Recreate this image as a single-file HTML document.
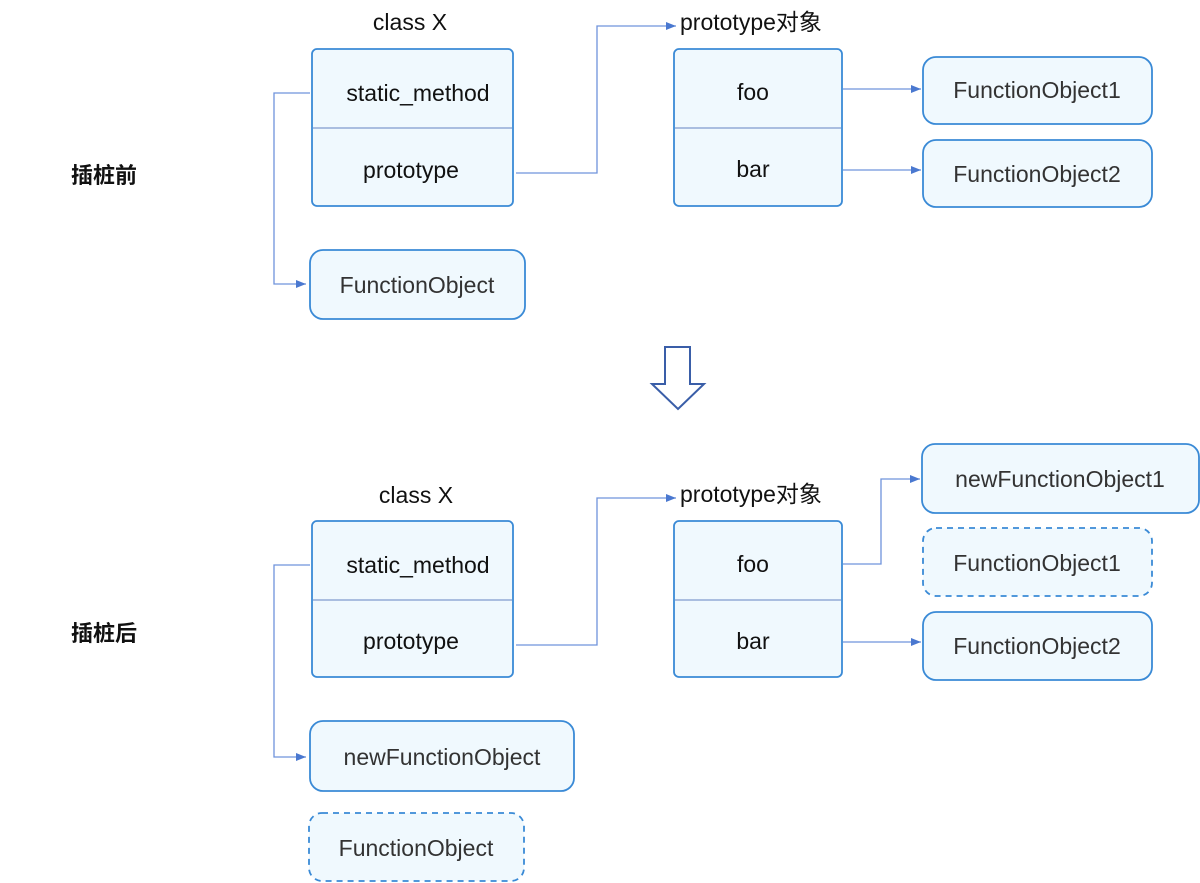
<!DOCTYPE html>
<html><head><meta charset="utf-8"><style>
html,body{margin:0;padding:0;background:#fff;}
svg{display:block;}
text{font-family:"Liberation Sans","Noto Sans CJK SC",sans-serif;font-size:23px;}
</style></head><body>
<svg width="1200" height="883" viewBox="0 0 1200 883" xmlns="http://www.w3.org/2000/svg">
<defs><marker id="a" markerWidth="10" markerHeight="8" refX="10" refY="4" orient="auto" markerUnits="userSpaceOnUse"><path d="M0,0 L10,4 L0,8 z" fill="#4a78d0"/></marker></defs>
<g fill="#f0f9fe" stroke="#3a8ad6" stroke-width="1.8">
<!-- top -->
<rect x="312" y="49" width="201" height="157" rx="5"/>
<rect x="674" y="49" width="168" height="157" rx="5"/>
<rect x="310" y="250" width="215" height="69" rx="13"/>
<rect x="923" y="57" width="229" height="67" rx="13"/>
<rect x="923" y="140" width="229" height="67" rx="13"/>
<!-- bottom -->
<rect x="312" y="521" width="201" height="156" rx="5"/>
<rect x="674" y="521" width="168" height="156" rx="5"/>
<rect x="310" y="721" width="264" height="70" rx="13"/>
<rect x="309" y="813" width="215" height="68" rx="13" stroke-dasharray="6,5"/>
<rect x="922" y="444" width="277" height="69" rx="13"/>
<rect x="923" y="528" width="229" height="68" rx="13" stroke-dasharray="6,5"/>
<rect x="923" y="612" width="229" height="68" rx="13"/>
</g>
<g stroke="#7f9ccf" stroke-width="1.3">
<line x1="313" y1="128" x2="512" y2="128"/><line x1="675" y1="128" x2="841" y2="128"/>
<line x1="313" y1="600" x2="512" y2="600"/><line x1="675" y1="600" x2="841" y2="600"/>
</g>
<g fill="none" stroke="#6f93dc" stroke-width="1.3">
<polyline points="310,93 274,93 274,284 306,284" marker-end="url(#a)"/>
<polyline points="516,173 597,173 597,26 676,26" marker-end="url(#a)"/>
<line x1="843" y1="89" x2="921" y2="89" marker-end="url(#a)"/>
<line x1="843" y1="170" x2="921" y2="170" marker-end="url(#a)"/>
<polyline points="310,565 274,565 274,757 306,757" marker-end="url(#a)"/>
<polyline points="516,645 597,645 597,498 676,498" marker-end="url(#a)"/>
<polyline points="843,564 881,564 881,479 920,479" marker-end="url(#a)"/>
<line x1="843" y1="642" x2="921" y2="642" marker-end="url(#a)"/>
</g>
<path d="M665,347 L690,347 L690,384 L704,384 L678,409 L652,384 L665,384 Z" fill="#fff" stroke="#3a5ea8" stroke-width="2"/>
<g fill="#111">
<text x="410" y="30" text-anchor="middle">class X</text>
<text x="680" y="30">prototype对象</text>
<text x="418" y="101" text-anchor="middle">static_method</text>
<text x="411" y="178" text-anchor="middle">prototype</text>
<text x="753" y="100" text-anchor="middle">foo</text>
<text x="753" y="177" text-anchor="middle">bar</text>
<text x="416" y="503" text-anchor="middle">class X</text>
<text x="680" y="502">prototype对象</text>
<text x="418" y="573" text-anchor="middle">static_method</text>
<text x="411" y="649" text-anchor="middle">prototype</text>
<text x="753" y="572" text-anchor="middle">foo</text>
<text x="753" y="649" text-anchor="middle">bar</text>
<text x="71" y="183" style="font-weight:bold;font-size:22px">插桩前</text>
<text x="71" y="641" style="font-weight:bold;font-size:22px">插桩后</text>
</g>
<g fill="#333">
<text x="417" y="293" text-anchor="middle">FunctionObject</text>
<text x="1037" y="98" text-anchor="middle">FunctionObject1</text>
<text x="1037" y="182" text-anchor="middle">FunctionObject2</text>
<text x="442" y="765" text-anchor="middle">newFunctionObject</text>
<text x="416" y="856" text-anchor="middle">FunctionObject</text>
<text x="1060" y="487" text-anchor="middle">newFunctionObject1</text>
<text x="1037" y="571" text-anchor="middle">FunctionObject1</text>
<text x="1037" y="654" text-anchor="middle">FunctionObject2</text>
</g>
</svg>
</body></html>
